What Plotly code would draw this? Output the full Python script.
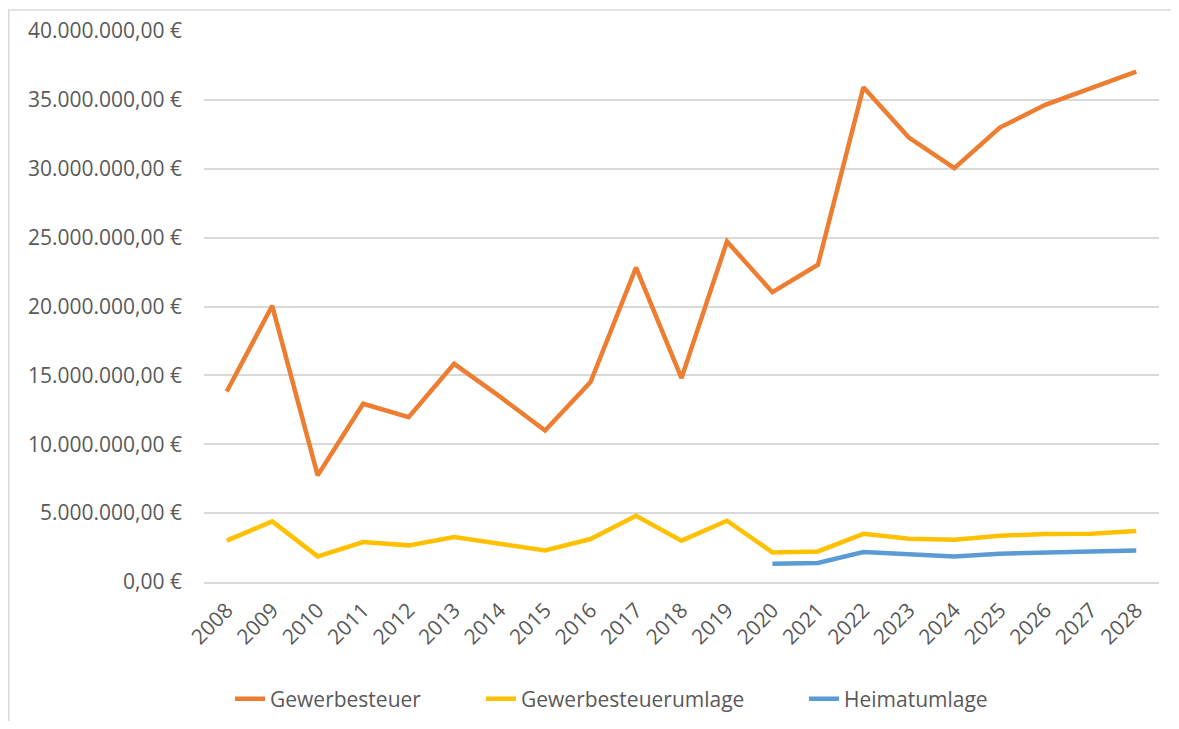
import plotly.graph_objects as go

years = [str(y) for y in range(2008, 2029)]
gewerbesteuer = [13.83, 20.05, 7.74, 12.94, 11.97, 15.84, 13.47, 11.0, 14.51, 22.83,
                 14.8, 24.72, 21.04, 23.03, 35.92, 32.26, 30.04, 32.99, 34.64, 35.84, 37.05]
umlage = [3.0, 4.4, 1.86, 2.9, 2.66, 3.27, 2.78, 2.29, 3.12, 4.81,
          3.0, 4.45, 2.15, 2.22, 3.5, 3.14, 3.07, 3.36, 3.48, 3.5, 3.7]
heimat_years = [str(y) for y in range(2020, 2029)]
heimat = [1.33, 1.38, 2.18, 1.98, 1.86, 2.05, 2.1, 2.22, 2.29]

M = 1_000_000
font = "Open Sans"
grey = "#595959"

W, H = 1163, 713
L, R, T, B = 196, 12, 23, 139
pw, ph = W - L - R, H - T - B

fig = go.Figure()
fig.add_trace(go.Scatter(x=years, y=[v * M for v in gewerbesteuer], mode="lines",
                         name="Gewerbesteuer", legend="legend",
                         line=dict(color="#ED7D31", width=4.5)))
fig.add_trace(go.Scatter(x=years, y=[v * M for v in umlage], mode="lines",
                         name="Gewerbesteuerumlage", legend="legend2",
                         line=dict(color="#FFC000", width=4.5)))
fig.add_trace(go.Scatter(x=heimat_years, y=[v * M for v in heimat], mode="lines",
                         name="Heimatumlage", legend="legend3",
                         line=dict(color="#5B9BD5", width=4.5)))


def leg(text_x):
    return dict(orientation="h", x=(text_x - 42 - L) / pw, xanchor="left",
                y=(574 - 691) / ph, yanchor="middle", bgcolor="rgba(0,0,0,0)",
                font=dict(family=font, size=21, color=grey))


fig.update_layout(
    width=W, height=H,
    margin=dict(l=L, r=R, t=T, b=B, autoexpand=False),
    paper_bgcolor="white", plot_bgcolor="white",
    separators=",.",
    font=dict(family=font, size=21, color=grey),
    showlegend=True,
    legend=leg(264), legend2=leg(515), legend3=leg(838),
    xaxis=dict(type="category", categoryorder="array", categoryarray=years,
               range=[-0.5, 20.5], tickangle=-45, showgrid=False,
               showline=True, linecolor="#D9D9D9", linewidth=1.5, ticks="",
               ticklabelstandoff=6,
               tickfont=dict(family=font, size=21, color=grey)),
    yaxis=dict(range=[0, 40 * M], dtick=5 * M, tickformat=",.2f", ticksuffix=" €",
               showgrid=True, gridcolor="#D9D9D9", gridwidth=1.5, zeroline=False,
               showline=False, ticks="", ticklabelstandoff=21,
               tickfont=dict(family=font, size=21, color=grey)),
    shapes=[dict(type="rect", xref="paper", yref="paper",
                 x0=(0.75 - L) / pw, x1=(1175 - L) / pw,
                 y0=(574 - 730) / ph, y1=(574 - 2) / ph,
                 line=dict(color="#D9D9D9", width=1.5), fillcolor="rgba(0,0,0,0)",
                 layer="below")],
)

fig.write_html("out.html")
